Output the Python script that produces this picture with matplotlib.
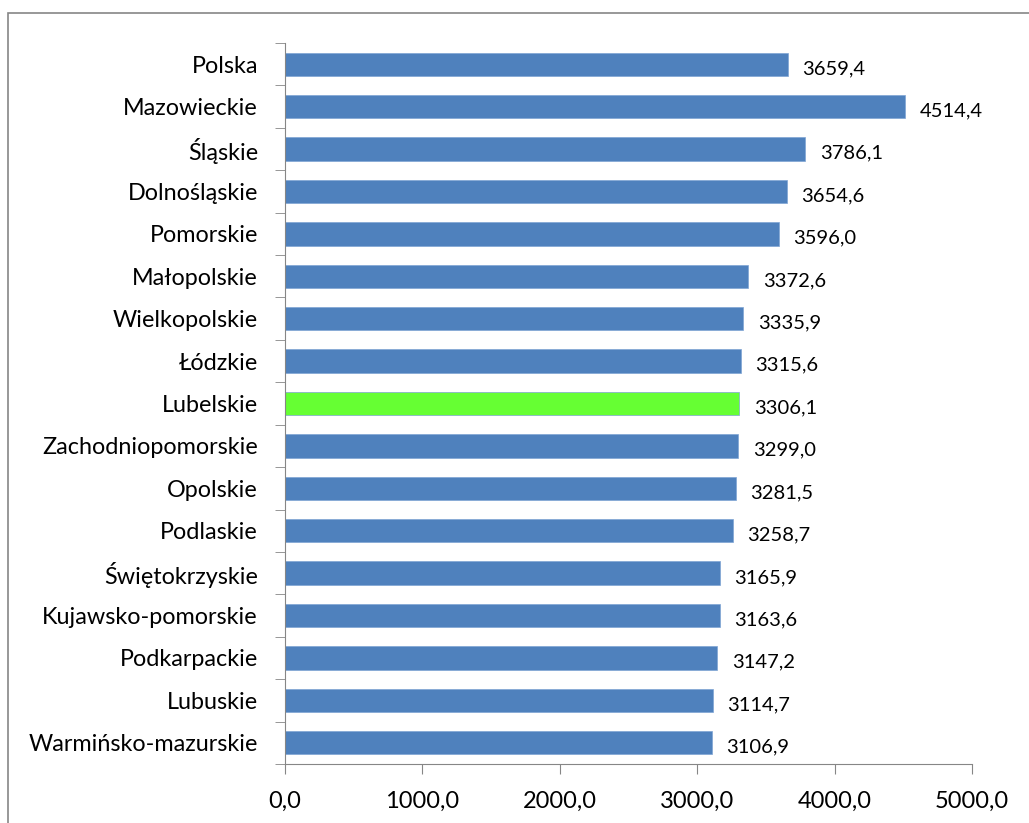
import matplotlib.pyplot as plt
import numpy as np
from matplotlib.patches import Rectangle

regions = ['Polska', 'Mazowieckie', 'Śląskie', 'Dolnośląskie', 'Pomorskie',
           'Małopolskie', 'Wielkopolskie', 'Łódzkie', 'Lubelskie',
           'Zachodniopomorskie', 'Opolskie', 'Podlaskie', 'Świętokrzyskie',
           'Kujawsko-pomorskie', 'Podkarpackie', 'Lubuskie',
           'Warmińsko-mazurskie']
values = [3659.4, 4514.4, 3786.1, 3654.6, 3596.0, 3372.6, 3335.9, 3315.6,
          3306.1, 3299.0, 3281.5, 3258.7, 3165.9, 3163.6, 3147.2, 3114.7,
          3106.9]
highlight = 'Lubelskie'
xticks = [0, 1000, 2000, 3000, 4000, 5000]

W, H = 1029, 823
plt.rcParams['font.family'] = ['Lato', 'DejaVu Sans']
fig = plt.figure(figsize=(W / 100, H / 100), dpi=100)
# chart frame
fig.patches.append(Rectangle((8 / W, -0.1), 1.2, 1 - 13 / H + 0.1,
                             transform=fig.transFigure, fill=False,
                             edgecolor='#868686', linewidth=1.2))
ax = fig.add_axes([285 / W, 1 - 764 / H, (972 - 285) / W, (764 - 43) / H])

y_pos = np.arange(len(regions))
colors = ['#66FF33' if r == highlight else '#4F81BD' for r in regions]
ax.barh(y_pos, values, height=0.55, color=colors, edgecolor='#7FA4D4',
        linewidth=0.5)
for y, v in zip(y_pos, values):
    ax.text(v + 105, y + 0.1, f'{v:.1f}'.replace('.', ','), va='center',
            ha='left', fontsize=14.5)

ax.set_ylim(len(regions) - 0.5, -0.5)
ax.set_xlim(0, 5000)
ax.set_yticks(y_pos)
ax.set_yticklabels(regions, fontsize=16.8)
ax.set_yticks(np.arange(-0.5, len(regions)), minor=True)
ax.tick_params(axis='y', which='major', length=0, pad=19.5)
ax.tick_params(axis='y', which='minor', length=7, color='#868686')
ax.set_xticks(xticks)
ax.set_xticklabels([f'{t:.1f}'.replace('.', ',') for t in xticks],
                   fontsize=17)
ax.tick_params(axis='x', length=7, color='#868686', pad=12)
for s in ['top', 'right']:
    ax.spines[s].set_visible(False)
for s in ['left', 'bottom']:
    ax.spines[s].set_color('#868686')

fig.savefig('out.png', dpi=100)
